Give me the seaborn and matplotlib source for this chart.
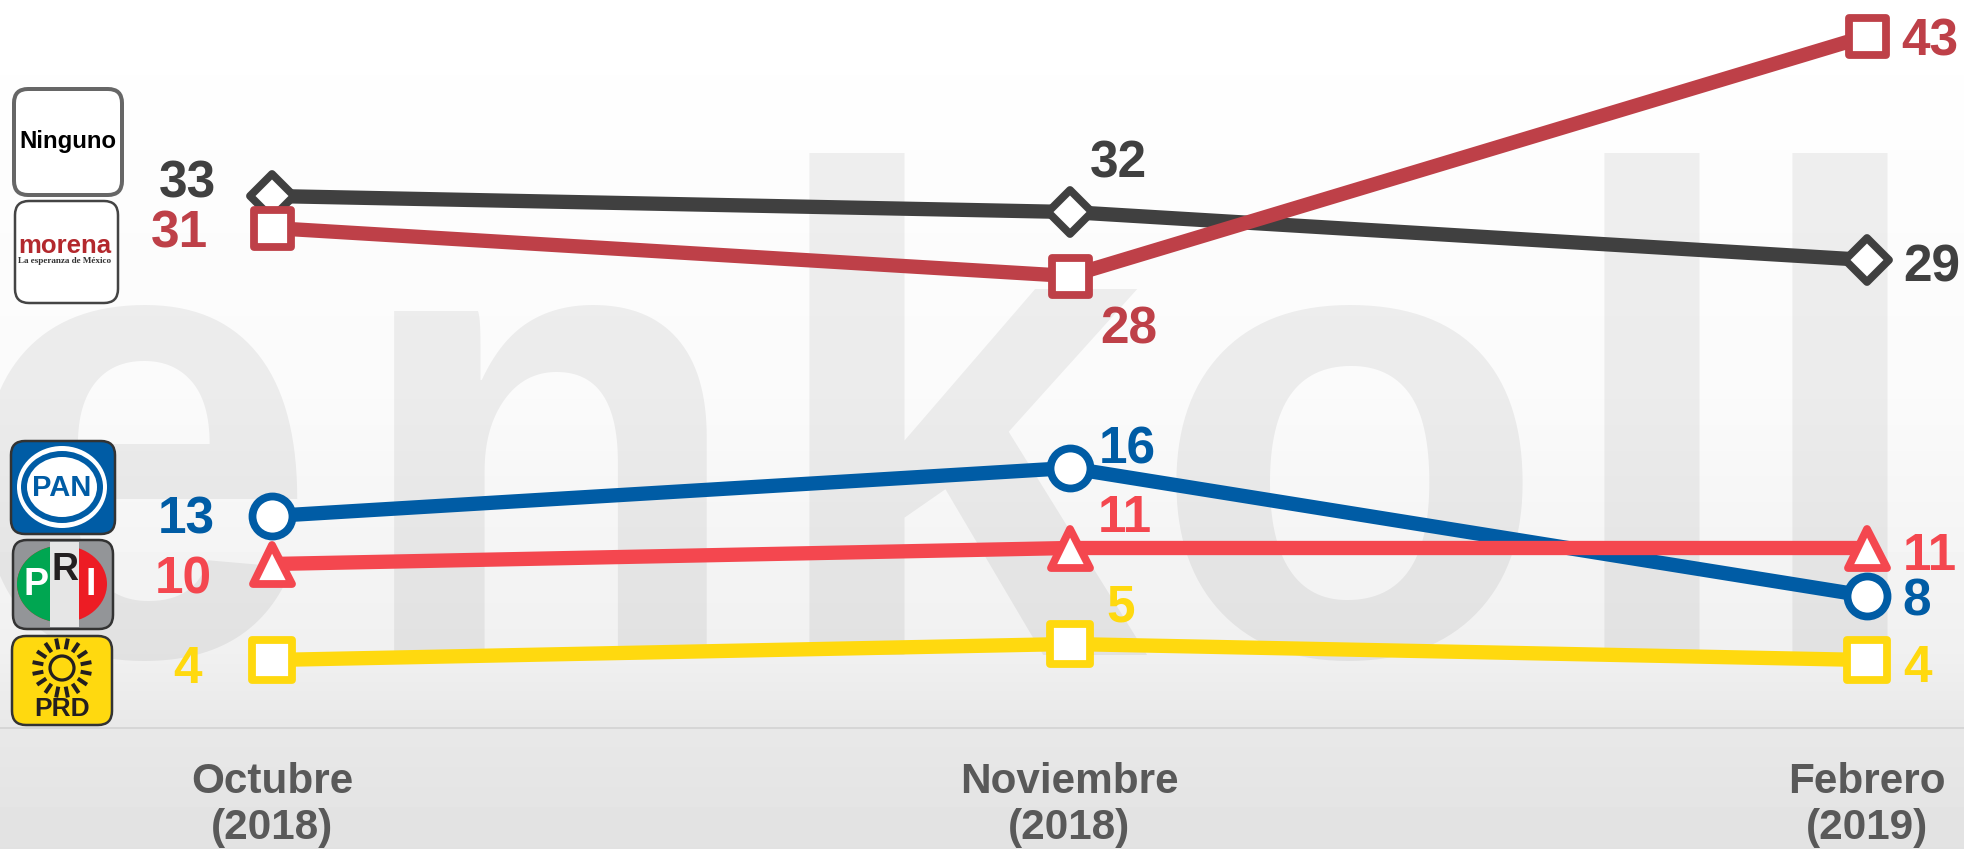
import numpy as np
import pandas as pd
import matplotlib
matplotlib.use("Agg")
import matplotlib.pyplot as plt
import seaborn as sns
from matplotlib.markers import MarkerStyle
from matplotlib.patches import Circle, Ellipse, FancyBboxPatch, Rectangle

# Data
meses = ["Octubre\n(2018)", "Noviembre\n(2018)", "Febrero\n(2019)"]
ninguno = [33, 32, 29]
morena = [31, 28, 43]
pan = [13, 16, 8]
pri = [10, 11, 11]
prd = [4, 5, 4]

W, H = 1965, 849
DPI = 100
PX = 72 / DPI  # one pixel in points

sns.set_theme(style="white")
plt.rcParams["font.family"] = ["Liberation Sans", "DejaVu Sans"]
plt.rcParams["font.weight"] = "bold"

fig = plt.figure(figsize=(W / DPI, H / DPI), dpi=DPI)


def px_axes(zorder):
    a = fig.add_axes([0, 0, 1, 1], zorder=zorder)
    a.set_xlim(0, W)
    a.set_ylim(H, 0)
    a.axis("off")
    return a


# Background gradient and the big watermark
bg = px_axes(0)
rows = np.arange(H)
shade = np.interp(rows, [0, 150, 400, 655, 728, 849], [255, 253, 250, 240, 232, 226])
bg.imshow(shade[:, None], cmap="gray", vmin=0, vmax=255, aspect="auto", extent=(0, W, H, 0))
# x-height letters are a bit smaller than the tall ones in the original wordmark
for letra, x, em in [("e", -42, 650), ("n", 350, 650), ("k", 761, 693), ("o", 1151, 650),
                     ("l", 1556, 693), ("l", 1744, 693)]:
    bg.text(x, 655, letra, fontsize=em * PX, color="black", alpha=0.06, ha="left", va="baseline")

# The chart itself
ax = fig.add_axes([0, (H - 727.5) / H, 1, 727.5 / H], zorder=1)
ax.patch.set_alpha(0)

estilos = [
    ("Ninguno", ninguno, "#404040", "D", 31),
    ("Morena", morena, "#BE4048", "s", 37),
    ("PAN", pan, "#005CA5", "o", 40),
    ("PRI", pri, "#F4474F", "^", 39),
    ("PRD", prd, "#FFD90F", "s", 40),
]
# label offsets from each point, in pixels (right, up)
offsets = {
    "Ninguno": [(-85, 18), (49, 54), (65, -3)],
    "Morena": [(-93, -1), (59, -49), (63, 0)],
    "PAN": [(-86, 1), (58, 24), (50, -1)],
    "PRI": [(-89, -11), (55, 35), (63, -3)],
    "PRD": [(-85, -4), (51, 41), (50, -3)],
}

for nombre, valores, color, marca, size in estilos:
    df = pd.DataFrame({"mes": meses, "valor": valores})
    sns.lineplot(data=df, x="mes", y="valor", ax=ax, color=color, sort=False, errorbar=None,
                 linewidth=14.3 * PX, solid_joinstyle="round",
                 marker=MarkerStyle(marca, joinstyle="round"), markersize=size * PX,
                 markerfacecolor="white", markeredgecolor=color, markeredgewidth=7.8 * PX,
                 clip_on=False)
    for i, v in enumerate(valores):
        dx, dy = offsets[nombre][i]
        ax.annotate(str(v), (i, v), xytext=(dx * PX, dy * PX), textcoords="offset points",
                    ha="center", va="center_baseline", fontsize=37, color=color, annotation_clip=False)

ax.set_xlim(-272 / 797.5, (W - 272) / 797.5)
ax.set_ylim((724 - 727.5) / 16, 724 / 16)
ax.set_xlabel("")
ax.set_ylabel("")
ax.set_yticks([])
ax.tick_params(axis="x", length=0, pad=25, labelsize=30.4, labelcolor="#595959")
for t in ax.get_xticklabels():
    t.set_linespacing(1.2)
sns.despine(ax=ax, left=True)
ax.spines["bottom"].set_color("#D6D6D6")
ax.spines["bottom"].set_linewidth(2 * PX)

# Party badges on the left
lg = px_axes(2)


def badge(x0, y0, x1, y1, face, edge, lw=2.5):
    lg.add_patch(FancyBboxPatch((x0, y0), x1 - x0, y1 - y0, boxstyle="round,pad=0,rounding_size=14",
                                facecolor=face, edgecolor=edge, linewidth=lw * PX))


badge(14, 89, 122, 195, "white", "#666666", 4)
lg.text(68, 141, "Ninguno", fontsize=17.3, color="black", ha="center", va="center")

badge(15, 201, 118, 303, "white", "#444444", 2.5)
lg.text(65, 246, "morena", fontsize=18.5, color="#B3282D", ha="center", va="center")
lg.text(65, 261, "La esperanza de México", fontsize=6.6, color="#333333", family="Liberation Serif",
        ha="center", va="center")

badge(11, 441, 115, 534, "#005CA5", "#333333")
lg.add_patch(Ellipse((62, 487), 90, 82, facecolor="white", edgecolor="none"))
lg.add_patch(Ellipse((62, 487), 82, 72, facecolor="#005CA5", edgecolor="none"))
lg.add_patch(Ellipse((62, 487), 70, 60, facecolor="white", edgecolor="none"))
lg.text(62, 488, "PAN", fontsize=21, color="#005CA5", ha="center", va="center")

badge(13, 540, 113, 629, "#939598", "#333333")
lg.add_patch(Ellipse((62, 584), 90, 77, facecolor="#ED1C24", edgecolor="none"))
verde = Ellipse((62, 584), 90, 77, facecolor="#00A651", edgecolor="none")
lg.add_patch(verde)
verde.set_clip_path(Rectangle((13, 540), 40, 90, transform=lg.transData))
lg.add_patch(Rectangle((50, 542), 29, 85, facecolor="#E6E6E6", edgecolor="none"))
lg.text(36, 585, "P", fontsize=27, color="white", ha="center", va="center")
lg.text(65, 570, "R", fontsize=27, color="#231F20", ha="center", va="center")
lg.text(91, 585, "I", fontsize=27, color="white", ha="center", va="center")

badge(12, 636, 112, 725, "#FFD90F", "#333333")
lg.add_patch(Circle((62, 668), 12, facecolor="none", edgecolor="#231F20", linewidth=3.2 * PX))
for ang in np.arange(16) * np.pi / 8 + np.pi / 16:
    lg.plot([62 + 19 * np.cos(ang), 62 + 30 * np.cos(ang)],
            [668 + 19 * np.sin(ang), 668 + 30 * np.sin(ang)],
            color="#231F20", linewidth=4 * PX, solid_capstyle="butt")
lg.text(62, 709, "PRD", fontsize=19, color="#231F20", ha="center", va="center")

fig.savefig("out.png", dpi=DPI)
